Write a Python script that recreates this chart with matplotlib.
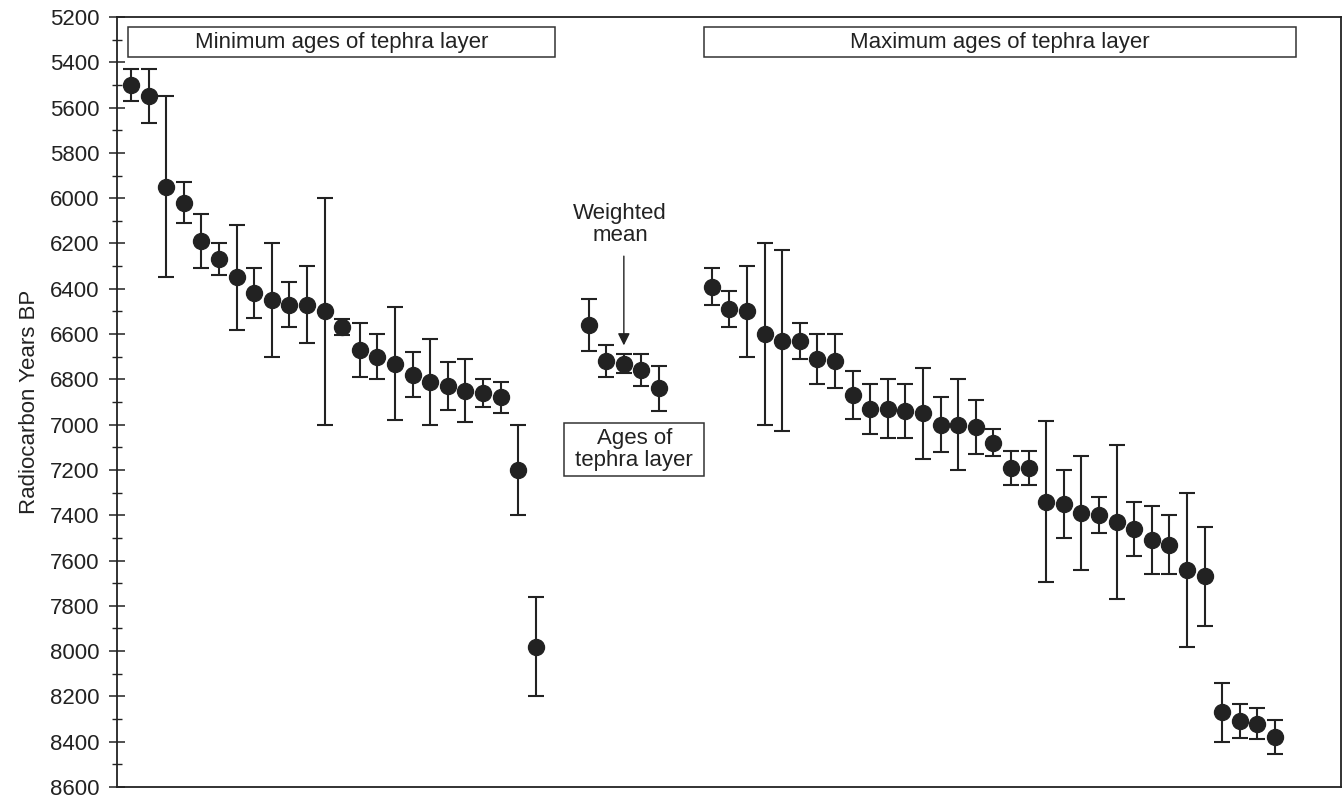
import numpy as np
import matplotlib
matplotlib.use("Agg")
import matplotlib.pyplot as plt
from matplotlib.patches import Rectangle
from matplotlib.ticker import MultipleLocator

plt.rcParams["font.family"] = ["Liberation Sans", "DejaVu Sans"]

# Minimum ages (left group)
min_ages = [5500, 5550, 5950, 6020, 6190, 6270, 6350, 6420, 6450, 6470, 6470, 6500,
            6570, 6670, 6700, 6730, 6780, 6810, 6830, 6850, 6860, 6880, 7200, 7980]
min_errs = [70, 120, 400, 90, 120, 70, 230, 110, 250, 100, 170, 500,
            35, 120, 100, 250, 100, 190, 105, 140, 60, 70, 200, 220]

# Ages of the tephra layer (middle group), third one is the weighted mean
tephra_ages = [6560, 6720, 6730, 6760, 6840]
tephra_errs = [115, 70, 40, 70, 100]

# Maximum ages (right group)
max_ages = [6390, 6490, 6500, 6600, 6630, 6630, 6710, 6720, 6870, 6930, 6930,
            6940, 6950, 7000, 7000, 7010, 7080, 7190, 7190, 7340, 7350, 7390,
            7400, 7430, 7460, 7510, 7530, 7640, 7670, 8270, 8310, 8320, 8380]
max_errs = [80, 80, 200, 400, 400, 80, 110, 120, 105, 110, 130,
            120, 200, 120, 200, 120, 60, 75, 75, 355, 150, 250,
            80, 340, 120, 150, 130, 340, 220, 130, 75, 70, 75]

# sample slot where each group starts
group_starts = [0, 26, 33]
mean_index = 2

DARK = "#222222"
FS = 16

fig = plt.figure(figsize=(13.43, 8), dpi=100)
ax = fig.add_axes([117 / 1343, 13 / 800, 1224 / 1343, 770 / 800])

groups = [(min_ages, min_errs), (tephra_ages, tephra_errs), (max_ages, max_errs)]
for start, (vals, errs) in zip(group_starts, groups):
    x = start + np.arange(len(vals))
    ax.errorbar(x, vals, yerr=errs, fmt="o", color=DARK, ms=11.5, elinewidth=1.5,
                capsize=6, capthick=1.5, zorder=3)

ax.set_xlim(-0.8, 68.75)
ax.set_ylim(8600, 5200)
ax.yaxis.set_major_locator(MultipleLocator(200))
ax.yaxis.set_minor_locator(MultipleLocator(100))
ax.tick_params(axis="y", which="major", direction="inout", length=11, width=1.1,
               labelsize=FS, pad=7, colors=DARK)
ax.tick_params(axis="y", which="minor", direction="inout", length=7, width=1.0, colors=DARK)
ax.tick_params(axis="x", bottom=False, labelbottom=False)
for s in ax.spines.values():
    s.set_color(DARK)
    s.set_linewidth(1.3)
ax.set_ylabel("Radiocarbon Years BP", fontsize=FS, color=DARK, labelpad=7)

# header boxes
def label_box(x0, x1, y0, y1, text):
    ax.add_patch(Rectangle((x0, y0), x1 - x0, y1 - y0, transform=ax.transAxes,
                           facecolor="white", edgecolor="#333333", lw=1.1, zorder=4))
    ax.text((x0 + x1) / 2, (y0 + y1) / 2, text, transform=ax.transAxes,
            ha="center", va="center", fontsize=FS, color=DARK, zorder=5,
            linespacing=1.05)

label_box(0.009, 0.358, 0.948, 0.987, "Minimum ages of tephra layer")
label_box(0.4796, 0.9632, 0.948, 0.987, "Maximum ages of tephra layer")
label_box(0.3656, 0.4796, 0.4036, 0.4722, "Ages of\ntephra layer")

# weighted mean arrow
mean_x = group_starts[1] + mean_index
ax.annotate("", xy=(mean_x, 6650), xytext=(mean_x, 6256),
            arrowprops=dict(arrowstyle="-|>", color=DARK, lw=1.0,
                            mutation_scale=18, shrinkA=0, shrinkB=0))
ax.text(0.411, 0.731, "Weighted\nmean", transform=ax.transAxes, ha="center",
        va="center", fontsize=FS, color=DARK, linespacing=1.05)

fig.savefig("out.png", dpi=100)
